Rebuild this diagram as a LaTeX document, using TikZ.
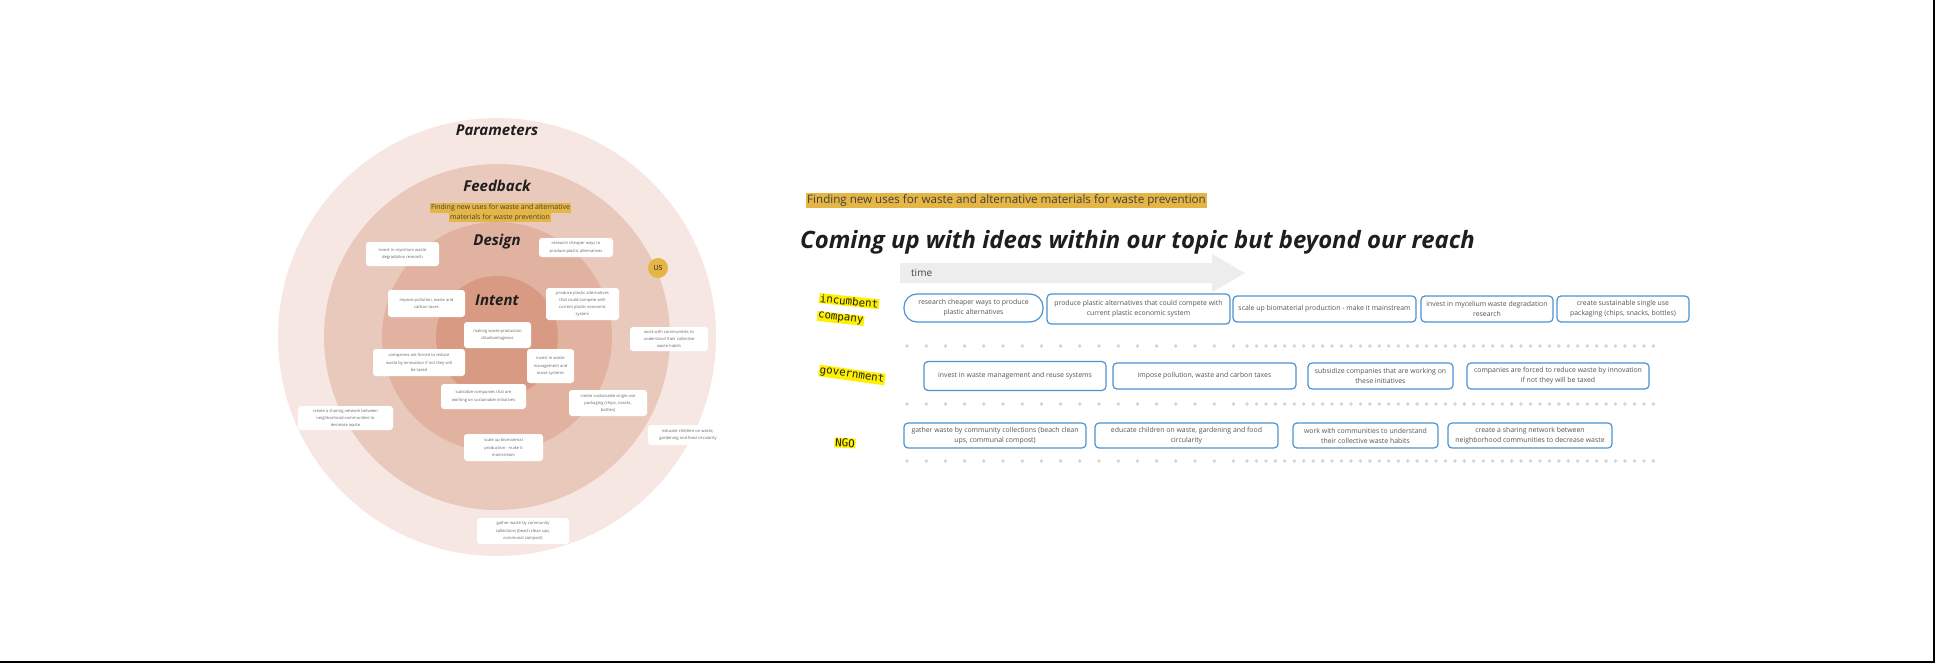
\documentclass[tikz,border=0pt]{standalone}
\usepackage{fontspec}
\setmainfont{Open Sans}
\newfontfamily\monof{DejaVu Sans Mono}
\definecolor{ringA}{HTML}{F6E7E2}
\definecolor{ringB}{HTML}{EAC9BD}
\definecolor{ringC}{HTML}{E2B2A1}
\definecolor{ringD}{HTML}{D99A84}
\definecolor{mustard}{HTML}{E6B645}
\definecolor{hiyellow}{HTML}{FFF000}
\definecolor{boxblue}{HTML}{4C92D2}
\definecolor{cardtext}{HTML}{666666}
\definecolor{boxtext}{HTML}{555555}
\definecolor{dotc}{HTML}{D4D4D4}
\definecolor{arrowgray}{HTML}{EDEDED}
\definecolor{titlec}{HTML}{1E1E1E}
\tikzset{
  card/.style={fill=white, rounded corners=3pt, align=center, text=cardtext,
    font=\fontsize{4.1}{7.2}\selectfont, inner sep=1pt},
  ringlabel/.style={font=\fontsize{15}{18}\selectfont\bfseries\itshape, text=titlec},
  rbox/.style={draw=boxblue, line width=1.2pt, fill=white, rounded corners=4pt,
    align=center, text=boxtext, font=\fontsize{6.9}{10}\selectfont, inner sep=1pt},
  lab/.style={fill=hiyellow, text=titlec, font=\monof\fontsize{10.8}{12}\selectfont, inner sep=0.8pt},
  hl/.style={fill=mustard, text=titlec!85, inner sep=1pt},
}
\begin{document}
\begin{tikzpicture}[x=1pt,y=-1pt]
\useasboundingbox (0,0) rectangle (1935,663);
\fill[white] (0,0) rectangle (1935,663);
% frame lines at right and bottom
\draw[line width=2pt] (0,661.5) -- (1933.5,661.5) -- (1933.5,0);

% ---------- concentric circles ----------
\fill[ringA] (497,337) circle[radius=219pt];
\fill[ringB] (497,337) circle[radius=173pt];
\fill[ringC] (497,337) circle[radius=115pt];
\fill[ringD] (497,337) circle[radius=61pt];

\node[ringlabel] (par) at (497,130) {Parameters};
\node[ringlabel] (feed) at (497,186) {Feedback};
\node[ringlabel] (des) at (497,242) {Design};
\node[ringlabel] (int) at (497,300) {Intent};

\node[hl, font=\fontsize{7}{8}\selectfont, minimum height=10pt] (ch1) at (500.5,208) {Finding new uses for waste and alternative};
\node[hl, font=\fontsize{7}{8}\selectfont, minimum height=9.5pt] (ch2) at (500,217.5) {materials for waste prevention};

\node[circle, fill=mustard, minimum size=20pt, inner sep=0pt, text=titlec, font=\fontsize{7}{8}\selectfont] (us) at (658,268) {US};

\node[card, minimum width=73pt, minimum height=24pt] (c1) at (402.5,254) {invest in mycelium waste\\degradation research};
\node[card, minimum width=74pt, minimum height=19pt] (c2) at (576,247.5) {research cheaper ways to\\produce plastic alternatives};
\node[card, minimum width=77pt, minimum height=27pt] (c4) at (426.5,303.5) {impose pollution, waste and\\carbon taxes};
\node[card, minimum width=73pt, minimum height=32pt] (c5) at (582.5,304) {produce plastic alternatives\\that could compete with\\current plastic economic\\system};
\node[card, minimum width=67pt, minimum height=26pt] (c6) at (497.5,335) {making waste production\\disadvantageous};
\node[card, minimum width=92pt, minimum height=27pt] (c7) at (419,362.5) {companies are forced to reduce\\waste by innovation if not they will\\be taxed};
\node[card, minimum width=47pt, minimum height=34pt] (c8) at (550.5,366) {invest in waste\\management and\\reuse systems};
\node[card, minimum width=85pt, minimum height=25pt] (c9) at (483.5,396.5) {subsidize companies that are\\working on sustainable initiatives};
\node[card, minimum width=78pt, minimum height=26pt] (c10) at (608,403) {create sustainable single use\\packaging (chips, snacks,\\bottles)};
\node[card, minimum width=78pt, minimum height=24pt] (c11) at (669,339) {work with communities to\\understand their collective\\waste habits};
\node[card, minimum width=95pt, minimum height=24pt] (c12) at (345.5,418) {create a sharing network between\\neighborhood communities to\\decrease waste};
\node[card, minimum width=80pt, minimum height=20pt] (c13) at (688,435) {educate children on waste,\\gardening and food circularity};
\node[card, minimum width=79pt, minimum height=27pt] (c14) at (503.5,447.5) {scale up biomaterial\\production - make it\\mainstream};
\node[card, minimum width=92pt, minimum height=26pt] (c15) at (523,531) {gather waste by community\\collections (beach clean ups,\\communal compost)};

% ---------- right part ----------
\node[hl, anchor=west, font=\fontsize{11.6}{13}\selectfont, minimum height=15pt] (topic) at (806,200.5) {Finding new uses for waste and alternative materials for waste prevention};

\node[anchor=west, inner sep=0pt, text=titlec, font=\fontsize{23.9}{28}\selectfont\bfseries\itshape] (title) at (800,242) {Coming up with ideas within our topic but beyond our reach};

\fill[arrowgray] (900,263) -- (1212,263) -- (1212,254) -- (1245,273) -- (1212,292) -- (1212,283) -- (900,283) -- cycle;
\node[anchor=west, inner sep=0pt, text=boxtext!80!black, font=\fontsize{10}{12}\selectfont] (time) at (911,273) {time};

% row labels
\node[lab, rotate=-6, anchor=west] (inc1) at (819,298) {incumbent};
\node[lab, rotate=-6, anchor=west] (inc2) at (817,316) {company};
\node[lab, rotate=-8] (gov) at (852,375) {government};
\node[lab, rotate=-3] (ngo) at (845,443) {NGO};

% incumbent row
\node[rbox, rounded corners=13pt, minimum width=139pt, minimum height=28pt] (i1) at (973.5,308) {research cheaper ways to produce\\plastic alternatives};
\node[rbox, minimum width=183pt, minimum height=30pt] (i2) at (1138.5,309) {produce plastic alternatives that could compete with\\current plastic economic system};
\node[rbox, minimum width=183pt, minimum height=26pt] (i3) at (1324.5,309) {scale up biomaterial production - make it mainstream};
\node[rbox, minimum width=132pt, minimum height=26pt] (i4) at (1487,309) {invest in mycelium waste degradation\\research};
\node[rbox, minimum width=132pt, minimum height=26pt] (i5) at (1623,309) {create sustainable single use\\packaging (chips, snacks, bottles)};

% government row
\node[rbox, minimum width=182pt, minimum height=29pt] (g1) at (1015,376) {invest in waste management and reuse systems};
\node[rbox, minimum width=183pt, minimum height=26pt] (g2) at (1204.5,376) {impose pollution, waste and carbon taxes};
\node[rbox, minimum width=145pt, minimum height=26pt] (g3) at (1380.5,376) {subsidize companies that are working on\\these initiatives};
\node[rbox, minimum width=182pt, minimum height=26pt] (g4) at (1558,376) {companies are forced to reduce waste by innovation\\if not they will be taxed};

% NGO row
\node[rbox, minimum width=182pt, minimum height=25pt] (n1) at (995,435.5) {gather waste by community collections (beach clean\\ups, communal compost)};
\node[rbox, minimum width=183pt, minimum height=25pt] (n2) at (1186.5,435.5) {educate children on waste, gardening and food\\circularity};
\node[rbox, minimum width=145pt, minimum height=25pt] (n3) at (1365.5,435.5) {work with communities to understand\\their collective waste habits};
\node[rbox, minimum width=164pt, minimum height=25pt] (n4) at (1530,435.5) {create a sharing network between\\neighborhood communities to decrease waste};

% dotted separators
\foreach \yy in {346,404,461} {
  \foreach \k in {0,...,17} \fill[dotc] (907+\k*19.2,\yy) circle[radius=1.9pt];
  \foreach \k in {0,...,43} \fill[dotc] (1247+\k*9.45,\yy) circle[radius=1.9pt];
}
\end{tikzpicture}
\end{document}
